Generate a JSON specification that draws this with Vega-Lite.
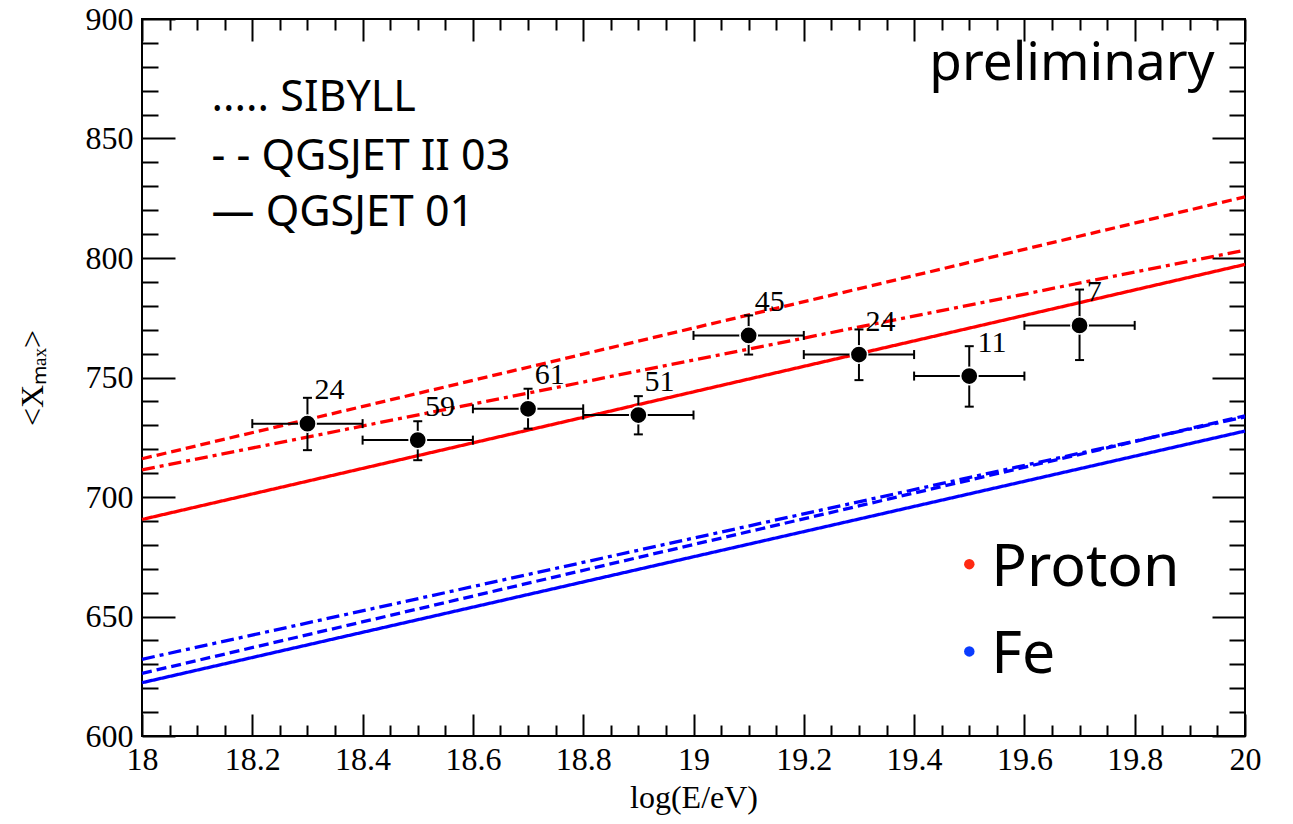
{
  "$schema": "https://vega.github.io/schema/vega-lite/v6.json",
  "width": 1103,
  "height": 717,
  "autosize": "none",
  "padding": {"left": 142, "top": 19, "right": 48, "bottom": 88},
  "background": "white",
  "config": {
    "view": {"stroke": "#000", "strokeWidth": 2},
    "axis": {
      "grid": false,
      "domain": false,
      "tickColor": "#000",
      "tickWidth": 2,
      "labelColor": "#000",
      "labelFont": "Liberation Serif",
      "labelFontSize": 32,
      "titleFont": "Liberation Serif",
      "titleFontSize": 32,
      "titleFontWeight": "normal",
      "titleColor": "#000",
      "labelFlush": false,
      "labelOverlap": false
    }
  },
  "datasets": {
    "models": [
      {"model": "SIBYLL", "comp": "Proton", "x": 18, "y": 716.0},
      {"model": "SIBYLL", "comp": "Proton", "x": 19, "y": 770.7},
      {"model": "SIBYLL", "comp": "Proton", "x": 20, "y": 825.6},
      {"model": "QGSJET II 03", "comp": "Proton", "x": 18, "y": 711.3},
      {"model": "QGSJET II 03", "comp": "Proton", "x": 19, "y": 757.3},
      {"model": "QGSJET II 03", "comp": "Proton", "x": 20, "y": 803.3},
      {"model": "QGSJET 01", "comp": "Proton", "x": 18, "y": 690.6},
      {"model": "QGSJET 01", "comp": "Proton", "x": 19, "y": 744.0},
      {"model": "QGSJET 01", "comp": "Proton", "x": 20, "y": 797.3},
      {"model": "SIBYLL", "comp": "Fe", "x": 18, "y": 626.2},
      {"model": "SIBYLL", "comp": "Fe", "x": 19, "y": 680.1},
      {"model": "SIBYLL", "comp": "Fe", "x": 20, "y": 734.0},
      {"model": "QGSJET II 03", "comp": "Fe", "x": 18, "y": 632.1},
      {"model": "QGSJET II 03", "comp": "Fe", "x": 19, "y": 682.8},
      {"model": "QGSJET II 03", "comp": "Fe", "x": 20, "y": 733.5},
      {"model": "QGSJET 01", "comp": "Fe", "x": 18, "y": 622.3},
      {"model": "QGSJET 01", "comp": "Fe", "x": 19, "y": 675.0},
      {"model": "QGSJET 01", "comp": "Fe", "x": 20, "y": 727.6}
    ],
    "points": [
      {"x": 18.3, "y": 730.7, "xlo": 18.2, "xhi": 18.4, "ylo": 719.6, "yhi": 741.5},
      {"x": 18.5, "y": 723.8, "xlo": 18.4, "xhi": 18.6, "ylo": 715.4, "yhi": 731.7},
      {"x": 18.7, "y": 736.9, "xlo": 18.6, "xhi": 18.8, "ylo": 728.6, "yhi": 745.3},
      {"x": 18.9, "y": 734.3, "xlo": 18.8, "xhi": 19.0, "ylo": 726.2, "yhi": 742.2},
      {"x": 19.1, "y": 767.6, "xlo": 19.0, "xhi": 19.2, "ylo": 759.6, "yhi": 776.0},
      {"x": 19.3, "y": 759.6, "xlo": 19.2, "xhi": 19.4, "ylo": 748.9, "yhi": 770.1},
      {"x": 19.5, "y": 750.6, "xlo": 19.4, "xhi": 19.6, "ylo": 737.8, "yhi": 763.1},
      {"x": 19.7, "y": 771.8, "xlo": 19.6, "xhi": 19.8, "ylo": 757.3, "yhi": 786.8}
    ],
    "counts": [
      {"x": 18.313, "y": 740.8, "n": "24"},
      {"x": 18.513, "y": 733.8, "n": "59"},
      {"x": 18.712, "y": 747.2, "n": "61"},
      {"x": 18.911, "y": 744.3, "n": "51"},
      {"x": 19.111, "y": 777.7, "n": "45"},
      {"x": 19.312, "y": 769.4, "n": "24"},
      {"x": 19.515, "y": 760.6, "n": "11"},
      {"x": 19.713, "y": 781.9, "n": "7"}
    ],
    "species": [
      {"label": "Proton", "x": 19.54, "y": 662.7},
      {"label": "Fe", "x": 19.54, "y": 626.2}
    ]
  },
  "resolve": {
    "axis": {"x": "independent", "y": "independent"},
    "scale": {"color": "independent"}
  },
  "layer": [
    {
      "data": {"name": "models"},
      "mark": {"type": "line", "strokeWidth": 3.3, "strokeCap": "butt"},
      "encoding": {
        "x": {
          "field": "x", "type": "quantitative",
          "scale": {"domain": [18, 20], "nice": false, "zero": false},
          "axis": {
            "orient": "bottom",
            "values": [18, 18.2, 18.4, 18.6, 18.8, 19, 19.2, 19.4, 19.6, 19.8, 20],
            "tickSize": -22,
            "labelPadding": 30,
            "format": "~g",
            "title": "log(E/eV)",
            "titlePadding": 7
          }
        },
        "y": {
          "field": "y", "type": "quantitative",
          "scale": {"domain": [600, 900], "nice": false, "zero": false},
          "axis": {
            "orient": "left",
            "values": [600, 650, 700, 750, 800, 850, 900],
            "tickSize": -33,
            "labelPadding": 42,
            "format": "d",
            "title": "<Xₘₐₓ>",
            "titlePadding": 36
          }
        },
        "color": {
          "field": "comp", "type": "nominal",
          "scale": {"domain": ["Proton", "Fe"], "range": ["#ff0000", "#0000ff"]},
          "legend": null
        },
        "strokeDash": {
          "field": "model", "type": "nominal",
          "scale": {"domain": ["SIBYLL", "QGSJET II 03", "QGSJET 01"], "range": [[10, 5], [13, 5, 4, 5], [1, 0]]},
          "legend": null
        }
      }
    },
    {
      "data": {"name": "points"},
      "mark": {"type": "rule", "color": "#000", "strokeWidth": 2},
      "encoding": {
        "x": {
          "field": "xlo", "type": "quantitative",
          "scale": {"domain": [18, 20], "nice": false, "zero": false},
          "axis": {
            "orient": "bottom",
            "values": [18.05, 18.1, 18.15, 18.25, 18.3, 18.35, 18.45, 18.5, 18.55, 18.65, 18.7, 18.75, 18.85, 18.9, 18.95, 19.05, 19.1, 19.15, 19.25, 19.3, 19.35, 19.45, 19.5, 19.55, 19.65, 19.7, 19.75, 19.85, 19.9, 19.95],
            "tickSize": -11,
            "labels": false,
            "title": null
          }
        },
        "x2": {"field": "xhi"},
        "y": {
          "field": "y", "type": "quantitative",
          "scale": {"domain": [600, 900], "nice": false, "zero": false},
          "axis": {
            "orient": "left",
            "values": [610, 620, 630, 640, 660, 670, 680, 690, 710, 720, 730, 740, 760, 770, 780, 790, 810, 820, 830, 840, 860, 870, 880, 890],
            "tickSize": -16,
            "labels": false,
            "title": null
          }
        }
      }
    },
    {
      "data": {"name": "points"},
      "mark": {"type": "rule", "color": "#000", "strokeWidth": 2},
      "encoding": {
        "x": {
          "field": "x", "type": "quantitative",
          "scale": {"domain": [18, 20], "nice": false, "zero": false},
          "axis": {
            "orient": "top",
            "values": [18, 18.2, 18.4, 18.6, 18.8, 19, 19.2, 19.4, 19.6, 19.8, 20],
            "tickSize": -22,
            "labels": false,
            "title": null
          }
        },
        "y": {
          "field": "ylo", "type": "quantitative",
          "scale": {"domain": [600, 900], "nice": false, "zero": false},
          "axis": {
            "orient": "right",
            "values": [600, 650, 700, 750, 800, 850, 900],
            "tickSize": -33,
            "labels": false,
            "title": null
          }
        },
        "y2": {"field": "yhi"}
      }
    },
    {
      "data": {"name": "points"},
      "mark": {"type": "tick", "orient": "vertical", "color": "#000", "size": 9, "thickness": 2, "opacity": 1},
      "encoding": {
        "x": {
          "field": "xlo", "type": "quantitative",
          "scale": {"domain": [18, 20], "nice": false, "zero": false},
          "axis": {
            "orient": "top",
            "values": [18.05, 18.1, 18.15, 18.25, 18.3, 18.35, 18.45, 18.5, 18.55, 18.65, 18.7, 18.75, 18.85, 18.9, 18.95, 19.05, 19.1, 19.15, 19.25, 19.3, 19.35, 19.45, 19.5, 19.55, 19.65, 19.7, 19.75, 19.85, 19.9, 19.95],
            "tickSize": -11,
            "labels": false,
            "title": null
          }
        },
        "y": {
          "field": "y", "type": "quantitative",
          "scale": {"domain": [600, 900], "nice": false, "zero": false},
          "axis": {
            "orient": "right",
            "values": [610, 620, 630, 640, 660, 670, 680, 690, 710, 720, 730, 740, 760, 770, 780, 790, 810, 820, 830, 840, 860, 870, 880, 890],
            "tickSize": -16,
            "labels": false,
            "title": null
          }
        }
      }
    },
    {
      "data": {"name": "points"},
      "mark": {"type": "tick", "orient": "vertical", "color": "#000", "size": 9, "thickness": 2, "opacity": 1},
      "encoding": {
        "x": {"field": "xhi", "type": "quantitative", "scale": {"domain": [18, 20], "nice": false, "zero": false}, "axis": null},
        "y": {"field": "y", "type": "quantitative", "scale": {"domain": [600, 900], "nice": false, "zero": false}, "axis": null}
      }
    },
    {
      "data": {"name": "points"},
      "mark": {"type": "tick", "orient": "horizontal", "color": "#000", "size": 9, "thickness": 2, "opacity": 1},
      "encoding": {
        "x": {"field": "x", "type": "quantitative", "scale": {"domain": [18, 20], "nice": false, "zero": false}, "axis": null},
        "y": {"field": "ylo", "type": "quantitative", "scale": {"domain": [600, 900], "nice": false, "zero": false}, "axis": null}
      }
    },
    {
      "data": {"name": "points"},
      "mark": {"type": "tick", "orient": "horizontal", "color": "#000", "size": 9, "thickness": 2, "opacity": 1},
      "encoding": {
        "x": {"field": "x", "type": "quantitative", "scale": {"domain": [18, 20], "nice": false, "zero": false}, "axis": null},
        "y": {"field": "yhi", "type": "quantitative", "scale": {"domain": [600, 900], "nice": false, "zero": false}, "axis": null}
      }
    },
    {
      "data": {"name": "points"},
      "mark": {"type": "point", "shape": "circle", "filled": true, "fill": "#000", "stroke": "#fff", "strokeWidth": 1.6, "size": 300, "opacity": 1},
      "encoding": {
        "x": {"field": "x", "type": "quantitative", "scale": {"domain": [18, 20], "nice": false, "zero": false}, "axis": null},
        "y": {"field": "y", "type": "quantitative", "scale": {"domain": [600, 900], "nice": false, "zero": false}, "axis": null}
      }
    },
    {
      "data": {"name": "counts"},
      "mark": {"type": "text", "font": "Liberation Serif", "fontSize": 30, "align": "left", "baseline": "alphabetic", "color": "#000"},
      "encoding": {
        "x": {"field": "x", "type": "quantitative", "scale": {"domain": [18, 20], "nice": false, "zero": false}, "axis": null},
        "y": {"field": "y", "type": "quantitative", "scale": {"domain": [600, 900], "nice": false, "zero": false}, "axis": null},
        "text": {"field": "n"}
      }
    },
    {
      "data": {"values": [{"x": 19.945, "y": 874.6, "t": "preliminary"}]},
      "mark": {"type": "text", "font": "Noto Sans", "fontSize": 53, "align": "right", "baseline": "alphabetic", "color": "#000"},
      "encoding": {
        "x": {"field": "x", "type": "quantitative", "scale": {"domain": [18, 20], "nice": false, "zero": false}, "axis": null},
        "y": {"field": "y", "type": "quantitative", "scale": {"domain": [600, 900], "nice": false, "zero": false}, "axis": null},
        "text": {"field": "t"}
      }
    },
    {
      "data": {"values": [
        {"x": 18.126, "y": 861.4, "t": "..... SIBYLL"},
        {"x": 18.126, "y": 837.0, "t": "- - QGSJET II 03"},
        {"x": 18.126, "y": 813.3, "t": "— QGSJET 01"}
      ]},
      "mark": {"type": "text", "font": "Noto Sans", "fontSize": 43, "align": "left", "baseline": "alphabetic", "color": "#000"},
      "encoding": {
        "x": {"field": "x", "type": "quantitative", "scale": {"domain": [18, 20], "nice": false, "zero": false}, "axis": null},
        "y": {"field": "y", "type": "quantitative", "scale": {"domain": [600, 900], "nice": false, "zero": false}, "axis": null},
        "text": {"field": "t"}
      }
    },
    {
      "data": {"name": "species"},
      "mark": {"type": "text", "font": "Noto Sans", "fontSize": 59, "align": "left", "baseline": "alphabetic", "color": "#000"},
      "encoding": {
        "x": {"field": "x", "type": "quantitative", "scale": {"domain": [18, 20], "nice": false, "zero": false}, "axis": null},
        "y": {"field": "y", "type": "quantitative", "scale": {"domain": [600, 900], "nice": false, "zero": false}, "axis": null},
        "text": {"field": "label"}
      }
    },
    {
      "data": {"name": "species"},
      "mark": {"type": "point", "shape": "circle", "filled": true, "size": 110, "opacity": 1, "xOffset": -22, "yOffset": -22},
      "encoding": {
        "x": {"field": "x", "type": "quantitative", "scale": {"domain": [18, 20], "nice": false, "zero": false}, "axis": null},
        "y": {"field": "y", "type": "quantitative", "scale": {"domain": [600, 900], "nice": false, "zero": false}, "axis": null},
        "color": {
          "field": "label", "type": "nominal",
          "scale": {"domain": ["Proton", "Fe"], "range": ["#ff2a12", "#0a3cff"]},
          "legend": null
        }
      }
    }
  ]
}
